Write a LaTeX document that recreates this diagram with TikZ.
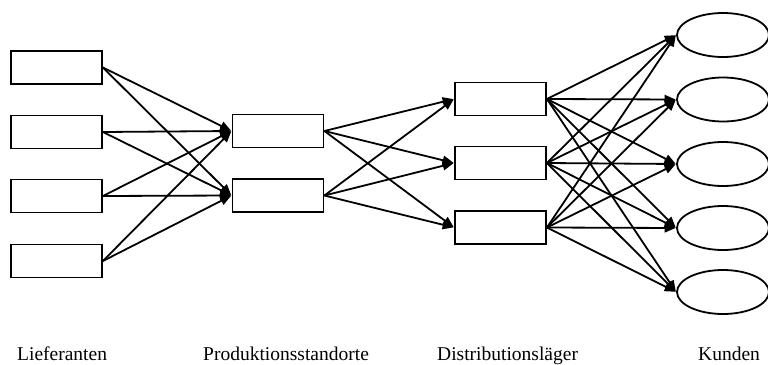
\documentclass[tikz,border=0pt]{standalone}
\usepackage{fontspec}
\setmainfont{Liberation Serif}
\usetikzlibrary{shapes.geometric,arrows.meta}
\begin{document}
\begin{tikzpicture}[x=1pt,y=-1pt,
  boxnode/.style={draw,line width=1.8pt,rectangle,minimum width=91pt,minimum height=33pt,inner sep=0pt},
  custnode/.style={draw,line width=1.8pt,ellipse,minimum width=92pt,minimum height=44pt,inner sep=0pt},
  flow/.style={line width=1.8pt,-{Triangle[length=11pt,width=9pt]},shorten >=0.5pt},
  lbl/.style={anchor=base west,font=\fontsize{19.5}{22}\selectfont,inner sep=0pt}]
\useasboundingbox (0,0) rectangle (768,364);
% Lieferanten
\node[boxnode] (s1) at (56.5,67.5) {};
\node[boxnode] (s2) at (56.5,132) {};
\node[boxnode] (s3) at (56.5,196) {};
\node[boxnode] (s4) at (56.5,261) {};
% Produktionsstandorte
\node[boxnode] (p1) at (278,131) {};
\node[boxnode] (p2) at (278,195.5) {};
% Distributionslaeger
\node[boxnode] (d1) at (500.5,99) {};
\node[boxnode] (d2) at (500.5,163) {};
\node[boxnode] (d3) at (500.5,227.5) {};
% Kunden
\node[custnode] (c1) at (723,35) {};
\node[custnode] (c2) at (723,99.5) {};
\node[custnode] (c3) at (723,164) {};
\node[custnode] (c4) at (723,228) {};
\node[custnode] (c5) at (723,292) {};
% Fluesse
\foreach \s in {s1,s2,s3,s4}{\foreach \p in {p1,p2}{\draw[flow] (\s.east) -- (\p.west);}}
\foreach \p in {p1,p2}{\foreach \d in {d1,d2,d3}{\draw[flow] (\p.east) -- (\d.west);}}
\foreach \d in {d1,d2,d3}{\foreach \c in {c1,c2,c3,c4,c5}{\draw[flow] (\d.east) -- (\c.west);}}
% Beschriftungen
\node[lbl] (l1) at (17,360) {Lieferanten};
\node[lbl] (l2) at (203,360) {Produktionsstandorte};
\node[lbl] (l3) at (437,360) {Distributionsläger};
\node[lbl] (l4) at (698,360) {Kunden};
\end{tikzpicture}
\end{document}
